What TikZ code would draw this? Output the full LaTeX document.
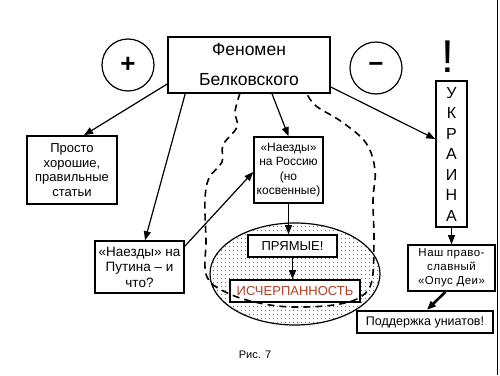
\documentclass[tikz,border=0pt]{standalone}
\usepackage{fontspec}
\setmainfont{Liberation Sans}
\usetikzlibrary{arrows.meta,patterns.meta,shapes.geometric}
\definecolor{bkred}{RGB}{178,62,36}
\tikzdeclarepattern{name=bkdots,type=uncolored,bounding box={(0pt,0pt) and (4pt,4pt)},tile size={(4pt,4pt)},code={\fill (2pt,2pt) circle (0.5pt);}}

\begin{document}
\begin{tikzpicture}[x=1pt,y=-1pt,
 bkbox/.style={draw,line width=1.6pt,align=center,inner sep=1pt,fill=white},
 bksign/.style={circle,draw,line width=1.2pt,minimum size=52pt,inner sep=0pt,font=\fontsize{26}{26}\selectfont\bfseries},
 bkarrow/.style={-{Triangle[length=9pt,width=7pt]},line width=1.2pt},
 bkdash/.style={line width=1.6pt,dash pattern=on 7pt off 5pt}
]
\useasboundingbox (0,0) rectangle (500,375);
\node[ellipse,draw,line width=1.2pt,pattern=bkdots,minimum width=170pt,minimum height=102pt] (zone) at (295,274) {};
\node[bkbox,minimum width=162pt,minimum height=56pt,font=\fontsize{17.5}{30}\selectfont] (phen) at (249,65) {Феномен\\Белковского};
\node[bksign] (plus) at (128,65) {+};
\node[bksign] (minus) at (376,68) {\raisebox{1pt}{−}};
\node[font=\fontsize{46}{46}\selectfont] (excl) at (448,57) {!};
\node[bkbox,minimum width=31pt,minimum height=146pt,font=\fontsize{16}{20.5}\selectfont] (ukr) at (451.5,154) {У\\К\\Р\\А\\И\\Н\\А};
\node[bkbox,minimum width=90pt,minimum height=68pt,font=\fontsize{13}{14.5}\selectfont] (good) at (72,170) {Просто\\хорошие,\\правильные\\статьи};
\node[bkbox,minimum width=89pt,minimum height=52pt,font=\fontsize{13.5}{15.5}\selectfont] (putin) at (139.5,267) {«Наезды» на\\Путина – и\\что?};
\node[bkbox,minimum width=69pt,minimum height=66pt,font=\fontsize{12}{14.5}\selectfont] (russia) at (288.5,170) {«Наезды»\\на Россию\\(но\\косвенные)};
\node[bkbox,minimum width=89pt,minimum height=22pt,font=\fontsize{13}{15}\selectfont] (direct) at (292.5,246) {ПРЯМЫЕ!};
\node[bkbox,minimum width=130pt,minimum height=22pt,text=bkred,font=\fontsize{13}{15}\selectfont] (exhaust) at (295,291) {ИСЧЕРПАННОСТЬ};
\node[bkbox,minimum width=87pt,minimum height=46pt,font=\fontsize{11.5}{14}\selectfont\addfontfeature{LetterSpace=4}] (opus) at (451.5,268) {Наш право-\\славный\\«Опус Деи»};
\node[bkbox,line width=2.4pt,minimum width=136pt,minimum height=22pt,font=\fontsize{12.5}{15}\selectfont] (unia) at (425,322) {Поддержка униатов!};
\node[font=\fontsize{11}{12}\selectfont] (caption) at (255,355) {Рис. 7};
\draw[bkarrow] ([yshift=-19pt]phen.west) -- ([xshift=12pt]good.north);
\draw[bkarrow] ([xshift=18pt]phen.south west) -- ([xshift=5.5pt]putin.north);
\draw[bkarrow] ([xshift=23pt]phen.south) -- (russia.north);
\draw[bkarrow] ([yshift=-22pt]phen.east) -- ([yshift=15pt]ukr.west);
\draw[bkarrow] ([yshift=-6pt]putin.north east) -- ([yshift=-2pt]russia.west);
\draw[bkarrow] (russia.south) -- (russia.south |- direct.north);
\draw[bkarrow] (direct.south) -- (direct.south |- exhaust.north);
\draw[bkarrow] (ukr.south) -- (opus.north);
\draw[bkarrow,line width=2.6pt] ([xshift=-6pt]opus.south) -- ([xshift=2pt]unia.north);
\draw[bkdash] plot[smooth,tension=0.6] coordinates {(240,93) (235,112) (237,127) (223,145) (222,162) (209,178) (205,200) (206,240) (207,277) (232,295) (270,305) (305,307) (340,304) (362,296) (372,280) (374,240) (373,200) (375,170) (366,143) (342,122) (316,106) (307,94)};
\draw[line width=1.2pt] (497.5,0) -- (497.5,375);
\end{tikzpicture}
\end{document}
